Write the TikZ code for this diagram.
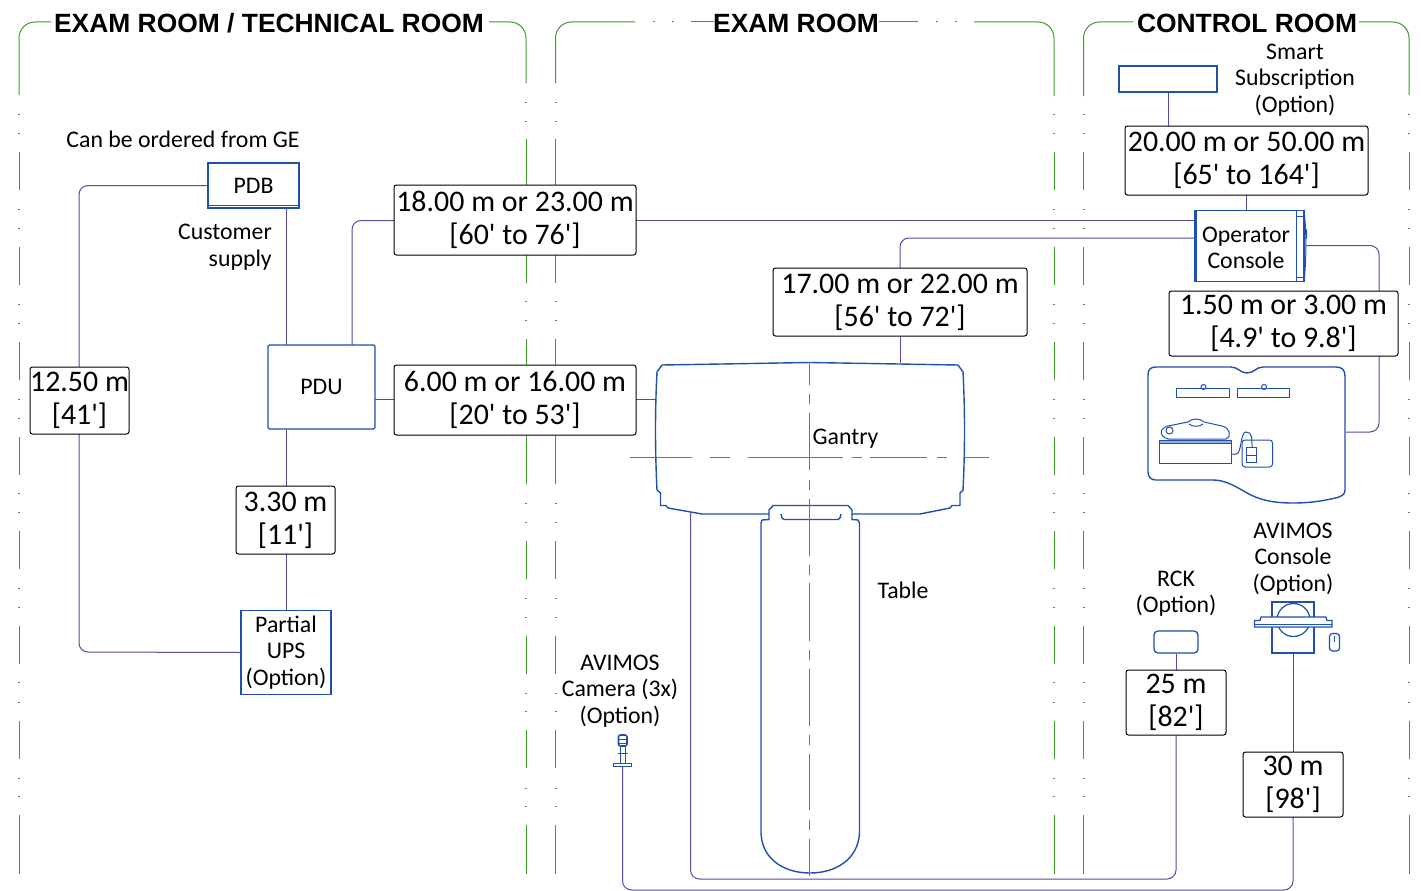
\documentclass[tikz,border=0pt]{standalone}
\usepackage{fontspec}
\setmainfont{Carlito}
\newfontfamily\headfont{Liberation Sans}[BoldFont={Liberation Sans Bold}]
\newcommand{\ft}{\textquotesingle}
\definecolor{roomgreen}{HTML}{3F9A2E}
\definecolor{equipblue}{HTML}{1F50AE}
\definecolor{cableviolet}{HTML}{554A9E}
\tikzset{
    room/.style={roomgreen, line width=1pt},
    dotmark/.style={roomgreen, line width=1pt},
    roomcorner/.style={room, rounded corners=16pt},
    equip/.style={draw=equipblue, line width=1.3pt, fill=white},
    outline/.style={equipblue, line width=1.4pt},
    detail/.style={equipblue, line width=1pt},
    cable/.style={cableviolet, line width=1pt, rounded corners=9pt},
    length/.style={draw=black, line width=1pt, rounded corners=2.5pt, fill=white, inner sep=0pt, align=center, font=\fontsize{29.9}{33}\selectfont},
    label/.style={inner sep=0pt, align=center, font=\fontsize{23.8}{26.5}\selectfont},
    heading/.style={inner sep=0pt, font=\headfont\bfseries\fontsize{26.4}{30}\selectfont}
}
\begin{document}
\begin{tikzpicture}[x=1pt,y=-1pt]
    \useasboundingbox (0,0) rectangle (1421,891);
    \fill[white] (0,0) rectangle (1421,891);

    % rooms
    \draw[roomcorner] (19,95) -- (19,22) -- (51,22);
    \draw[roomcorner] (489,22) -- (526,22) -- (526,83);
    \draw[roomcorner] (555.5,83) -- (555.5,22) -- (635,22);
    \draw[room] (691,22) -- (714,22);
    \draw[room] (879,22) -- (918,22);
    \draw[roomcorner] (974,22) -- (1054,22) -- (1054,96);
    \draw[roomcorner] (1083.5,96) -- (1083.5,22) -- (1133,22);
    \draw[roomcorner] (1359,22) -- (1409,22) -- (1409,95);
    \foreach \x in {654,673,937,956}
        \draw[dotmark] (\x-1,22) -- (\x+1,22);
    \foreach \x in {19,1054,1083.5,1409} {
        \foreach \a/\b in {152/190,247/285,342/380,437/475,531/569,626/664,721/759,815/874}
            \draw[room] (\x,\a) -- (\x,\b);
        \foreach \y in {114,133,209,228,304,323,399,418,493,512,588,607,682,702,778,796}
            \draw[dotmark] (\x-1,\y) -- (\x+1,\y);
    }
    \foreach \x in {526,555.5} {
        \foreach \a/\b in {139/187,245/283,339/377,436/484,541/579,636/674,730/768,825/874}
            \draw[room] (\x,\a) -- (\x,\b);
        \foreach \y in {102,121,301,320,503,522,598,617,693,711,788,806}
            \draw[dotmark] (\x-1,\y) -- (\x+1,\y);
    }

    \node[heading] (roomA) at (269,23) {EXAM ROOM / TECHNICAL ROOM};
    \node[heading] (roomB) at (796,23) {EXAM ROOM};
    \node[heading] (roomC) at (1247,23) {CONTROL ROOM};

    % gantry and table
    \draw[outline, fill=white] (662,365) -- (810,362.5) -- (958,365) -- (963,372)
        .. controls (965,410) and (965,450) .. (963,490) -- (960,493) -- (960,505.5) -- (952,505.5) -- (950,508)
        -- (920,514) -- (852,514) -- (852,510) -- (848,505.5) -- (773,505.5) -- (769,510) -- (769,514)
        -- (702,514) -- (668,508) -- (666,505.5) -- (660.5,505.5) -- (660.5,493) -- (657,490)
        .. controls (655,450) and (655,410) .. (657,372) -- cycle;
    \draw[outline] (769,514) -- (769,519.5) -- (762,520) -- (761,523) -- (761,833)
        .. controls (762,860) and (785,873) .. (810,873)
        .. controls (835,873) and (858,860) .. (859.5,833) -- (859.5,523) -- (858,520) -- (852,519.5) -- (852,514);
    \draw[outline] (781,514) -- (782,518) -- (784,519.5) -- (838,519.5) -- (840,518) -- (841,514);
    \foreach \a/\b in {362/385,394/404,413/470,480/490,499/556,565/575,583/641,650/660,669/726,735/745,754/810,820/830,839/876}
        \draw[room] (809.5,\a) -- (809.5,\b);
    \foreach \a/\b in {630/692,710/730,748/843,852/862,870/927,937/947,965/989}
        \draw[room] (\a,457.5) -- (\b,457.5);

    % equipment
    \node[equip, minimum width=91pt, minimum height=45pt, inner sep=0pt, label] (PDB) at (253.5,185.5) {PDB};
    \node[equip, rounded corners=1.5pt, minimum width=107pt, minimum height=84pt, inner sep=0pt, label] (PDU) at (321.5,387) {PDU};
    \node[equip, minimum width=90pt, minimum height=84pt, inner sep=0pt, label] (UPS) at (286,652.5) {Partial\\UPS\\(Option)};
    \node[equip, minimum width=98pt, minimum height=26pt, inner sep=0pt] (Smart) at (1168,79) {};
    \node[equip, minimum width=108pt, minimum height=71pt, inner sep=0pt] (Console) at (1250,246) {};
    \node[equip, rounded corners=4pt, minimum width=44pt, minimum height=22pt, inner sep=0pt] (RCK) at (1176,642) {};
    \node[equip, minimum width=42pt, minimum height=51pt, inner sep=0pt] (Avimos) at (1293,627.5) {};
    \coordinate (Desk) at (1346,432);
    \coordinate (CameraFoot) at (622.5,767);

    \draw[detail] (PDB.south west) ++(0,-3) -- ++(91,0);
    \draw[equipblue, line width=2.2pt] (Console.north west) -- (Console.south west);
    \draw[detail] (1296,210.5) -- (1296,281.5) (1296,216) -- (1304,216) (1296,277) -- (1304,277);
    \draw[detail] (1304,210.5) .. controls (1306.5,230) and (1306.5,260) .. (1304,281.5);
    \draw[detail] (1304,228) -- (1306.5,230) -- (1306.5,238) -- (1304,239);
    \node[label] (ConsoleText) at (1246,248) {Operator\\Console};

    % cables
    \draw[cable] (PDB.west) -- (79,185.5) -- (79,367);
    \draw[cable] (79,434) -- (79,652) -- (UPS.west);
    \draw[cable] (286,208) -- (286,345);
    \draw[cable] (286,429) -- (286,486);
    \draw[cable] (286,554) -- (286,610);
    \draw[cable] (352,345) -- (352,220.5) -- (394,220.5);
    \draw[cable] (636,220.5) -- (1195,220.5);
    \draw[cable] (375,399.5) -- (394,399.5);
    \draw[cable] (636,399.5) -- (656,399.5);
    \draw[cable] (900,363) -- (900,336);
    \draw[cable] (900,268) -- (900,238) -- (1195,238);
    \draw[cable] (Smart.south) -- (1168,126);
    \draw[cable] (1246,195) -- (1246,210);
    \draw[cable] (1306,245.5) -- (1379,245.5) -- (1379,291);
    \draw[cable] (1379,356) -- (1379,432) -- (Desk);
    \draw[cable] (690.5,513) -- (690.5,879) -- (1176,879) -- (1176,735);
    \draw[cable] (RCK.south) -- (1176,670);
    \draw[cable] (CameraFoot) -- (622.5,890) -- (1293,890) -- (1293,817);
    \draw[cable] (Avimos.south) -- (1293,752);

    % lengths
    \node[length, minimum width=242pt, minimum height=70pt] (L18) at (515,220) {18.00 m or 23.00 m\\{[60\ft{} to 76\ft{}]}};
    \node[length, minimum width=242pt, minimum height=70pt] (L6) at (515,400) {6.00 m or 16.00 m\\{[20\ft{} to 53\ft{}]}};
    \node[length, minimum width=99pt, minimum height=67pt] (L12) at (79.5,400.5) {12.50 m\\{[41\ft{}]}};
    \node[length, minimum width=99pt, minimum height=68pt] (L3) at (285.5,520) {3.30 m\\{[11\ft{}]}};
    \node[length, minimum width=254pt, minimum height=68pt] (L17) at (900,302) {17.00 m or 22.00 m\\{[56\ft{} to 72\ft{}]}};
    \node[length, minimum width=243pt, minimum height=69pt] (L20) at (1246.5,160.5) {20.00 m or 50.00 m\\{[65\ft{} to 164\ft{}]}};
    \node[length, minimum width=229pt, minimum height=65pt] (L1) at (1283.5,323.5) {1.50 m or 3.00 m\\{[4.9\ft{} to 9.8\ft{}]}};
    \node[length, minimum width=100pt, minimum height=65pt] (L25) at (1176,702.5) {25 m\\{[82\ft{}]}};
    \node[length, minimum width=100pt, minimum height=65pt] (L30) at (1293,784.5) {30 m\\{[98\ft{}]}};

    % operator desk
    \draw[outline, fill=white] (1148,375) .. controls (1148,369) and (1151,367) .. (1156,367) -- (1231,367)
        .. controls (1238,367) and (1240,373) .. (1247,373) .. controls (1254,373) and (1256,367) .. (1263,367) -- (1336,367)
        .. controls (1342,367) and (1345,370) .. (1345,376) -- (1345,490)
        .. controls (1345,495) and (1341,497) .. (1333,498.5) .. controls (1318,502) and (1305,503) .. (1293,503)
        .. controls (1270,503) and (1258,499) .. (1247,493) .. controls (1235,486) and (1225,480) .. (1213,480) -- (1156,480)
        .. controls (1151,480) and (1148,477) .. (1148,472) -- cycle;
    \draw[detail] (1176,388.5) rectangle (1229,397);
    \draw[detail] (1237,388.5) rectangle (1289.5,397);
    \draw[detail] (1203.5,387) circle (2.5pt) (1264,387) circle (2.5pt);
    \draw[detail] (1159,440.5) rectangle (1231,463.5);
    \draw[detail, fill=equipblue!45] (1159,440.5) rectangle (1231,443);
    \draw[detail] (1168,439) .. controls (1158,436) and (1160,428) .. (1168,426) -- (1188,422)
        .. controls (1192,418) and (1200,418) .. (1204,422) -- (1222,426) .. controls (1230,428) and (1232,436) .. (1226,439) -- cycle;
    \draw[detail] (1189,424) .. controls (1192,427) and (1200,427) .. (1203,424);
    \draw[detail] (1169.5,430.5) circle (3.5pt);
    \draw[detail] (1231,454) -- (1236,454) .. controls (1242,454) and (1240,432) .. (1246,432)
        .. controls (1252,432) and (1252,438) .. (1252,447);
    \draw[detail, rounded corners=3pt] (1242,440) rectangle (1272.5,467);
    \draw[detail] (1246,447.5) rectangle (1256,462) (1246,455) -- (1256,455);

    % avimos console
    \draw[equipblue, line width=1.2pt] (1293.5,620) circle (16.5pt);
    \draw[equipblue, line width=1.2pt, fill=white] (1254.5,620.5) -- (1260,620.5) -- (1261,617) -- (1326,617) -- (1327,620.5) -- (1332,620.5) -- (1332,627) -- (1254.5,627) -- cycle;
    \draw[detail] (1254.5,624) -- (1332,624);
    \draw[equipblue, line width=1.2pt, rounded corners=3pt] (1329.5,633.5) rectangle (1339.5,651);
    \draw[detail] (1334.5,636) -- (1334.5,642);

    % avimos camera
    \draw[equipblue, line width=1.6pt, rounded corners=2pt] (618.5,735) rectangle (627,746);
    \draw[detail] (618.5,739) -- (627,739) (618.5,743) -- (627,743);
    \draw[equipblue, line width=1.8pt] (618,753.5) -- (628,753.5);
    \draw[detail] (620,746) -- (620,763) (625.5,746) -- (625.5,763);
    \draw[equipblue, line width=1.4pt] (613.5,763.5) rectangle (631.5,766.5);

    % texts
    \node[label] (GeText) at (183,139.5) {Can be ordered from GE};
    \node[label, align=right, anchor=east] (SupplyText) at (272,247) {Customer\\supply};
    \node[label] (SmartText) at (1295,80) {Smart\\Subscription\\(Option)};
    \node[label] (GantryText) at (845.5,439) {Gantry};
    \node[label] (TableText) at (903,590) {Table};
    \node[label] (CameraText) at (620,691) {AVIMOS\\Camera (3x)\\(Option)};
    \node[label] (RckText) at (1176,593.5) {RCK\\(Option)};
    \node[label] (AvimosText) at (1293,559) {AVIMOS\\Console\\(Option)};
\end{tikzpicture}
\end{document}
